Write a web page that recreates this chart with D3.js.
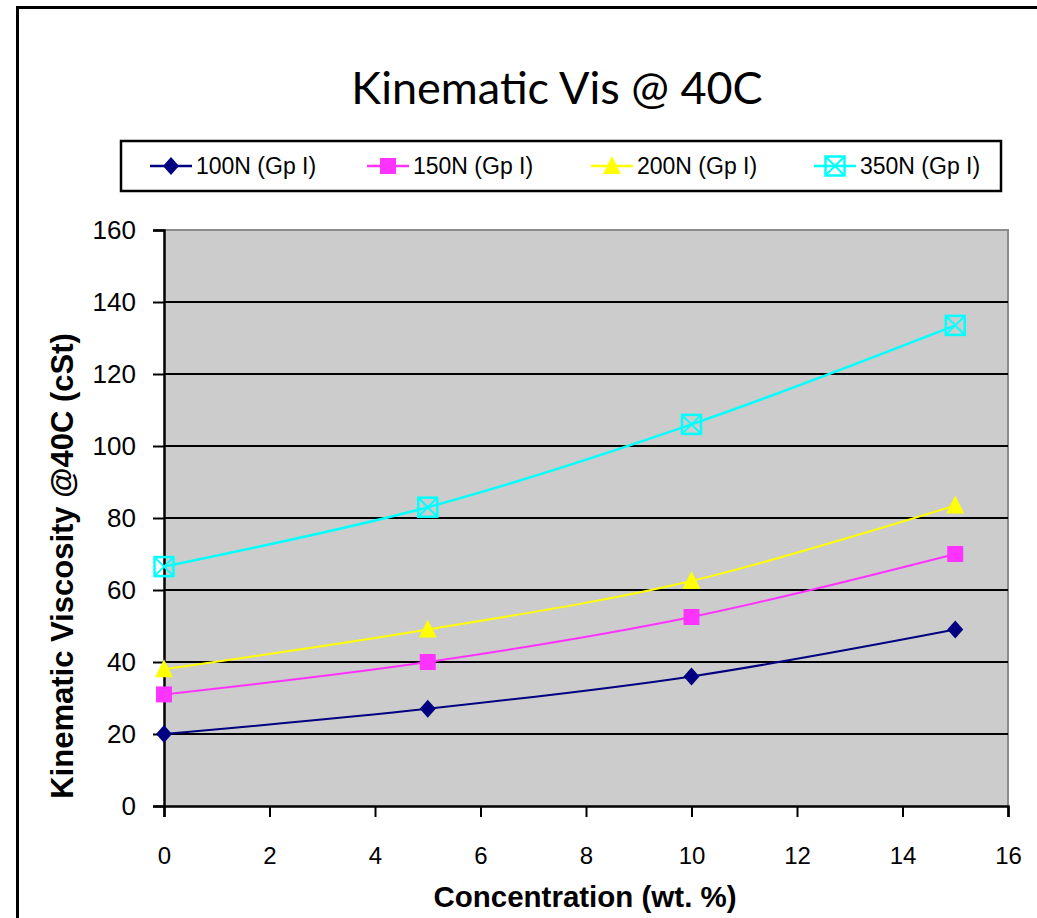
<!DOCTYPE html>
<html>
<head>
<meta charset="utf-8">
<script src="https://cdn.jsdelivr.net/npm/d3@7"></script>
<style>
  body { margin: 0; background: #fff; }
  svg { display: block; }
</style>
</head>
<body>
<div id="chart"></div>
<script>
const concentration = [0, 5, 10, 15]
const visc100N = [20, 27, 36, 49]
const visc150N = [31, 40, 52.5, 70]
const visc200N = [38, 49, 62.5, 83.5]
const visc350N = [66.5, 83, 106, 133.5]
const seriesNames = ["100N (Gp I)", "150N (Gp I)", "200N (Gp I)", "350N (Gp I)"]
const xTicks = [0, 2, 4, 6, 8, 10, 12, 14, 16]
const yTicks = [0, 20, 40, 60, 80, 100, 120, 140, 160]

const series = [
  { name: seriesNames[0], values: visc100N, color: "#000080", marker: "diamond" },
  { name: seriesNames[1], values: visc150N, color: "#ff33ff", marker: "square" },
  { name: seriesNames[2], values: visc200N, color: "#ffff00", marker: "triangle" },
  { name: seriesNames[3], values: visc350N, color: "#00ffff", marker: "boxx" }
]

const width = 1037, height = 918
const plot = { left: 164, right: 1008, top: 230, bottom: 806 }
const font = "'Liberation Sans', Arial, sans-serif"

const svg = d3.select("#chart").append("svg")
  .attr("width", width)
  .attr("height", height)

// outer chart border (runs off the right/bottom edge)
svg.append("rect")
  .attr("x", 17.5).attr("y", 7.5)
  .attr("width", 1100).attr("height", 1000)
  .attr("fill", "#fff")
  .attr("stroke", "#000")
  .attr("stroke-width", 3)

const x = d3.scaleLinear().domain([0, 16]).range([plot.left, plot.right])
const y = d3.scaleLinear().domain([0, 160]).range([plot.bottom, plot.top])

// plot background
svg.append("rect")
  .attr("x", plot.left).attr("y", plot.top)
  .attr("width", plot.right - plot.left)
  .attr("height", plot.bottom - plot.top)
  .attr("fill", "#cccccc")

// top and right border of plot area
svg.append("path")
  .attr("d", `M${plot.left},${plot.top}H${plot.right}V${plot.bottom}`)
  .attr("fill", "none")
  .attr("stroke", "#8c8c8c")
  .attr("stroke-width", 2)

// gridlines
svg.append("g")
  .selectAll("line")
  .data(yTicks.filter(d => d > 0 && d < 160))
  .join("line")
    .attr("x1", plot.left).attr("x2", plot.right)
    .attr("y1", d => y(d)).attr("y2", d => y(d))
    .attr("stroke", "#000")
    .attr("stroke-width", 2)

// axes
const yAxis = svg.append("g")
  .attr("transform", `translate(${plot.left},0)`)
  .call(d3.axisLeft(y).tickValues(yTicks).tickSize(11).tickPadding(17))
yAxis.select(".domain").attr("stroke-width", 2.5)
yAxis.selectAll(".tick line").attr("stroke-width", 2)
yAxis.selectAll("text")
  .style("font-family", font)
  .style("font-size", "26px")
  .attr("fill", "#000")

const xAxis = svg.append("g")
  .attr("transform", `translate(0,${plot.bottom})`)
  .call(d3.axisBottom(x).tickValues(xTicks).tickSize(11).tickPadding(30))
xAxis.select(".domain").attr("stroke-width", 2.5)
xAxis.selectAll(".tick line").attr("stroke-width", 2)
xAxis.selectAll("text")
  .style("font-family", font)
  .style("font-size", "24px")
  .attr("fill", "#000")

// marker drawing
function drawMarker(g, type, color) {
  if (type === "diamond") {
    g.append("path").attr("d", "M0,-9L8,0L0,9L-8,0Z").attr("fill", color)
  } else if (type === "square") {
    g.append("rect").attr("x", -8).attr("y", -8).attr("width", 16).attr("height", 16).attr("fill", color)
  } else if (type === "triangle") {
    g.append("path").attr("d", "M0,-10L9,8L-9,8Z").attr("fill", color)
  } else {
    g.append("rect").attr("x", -9.5).attr("y", -9.5).attr("width", 19).attr("height", 19)
      .attr("fill", "none").attr("stroke", color).attr("stroke-width", 2.5)
    g.append("path").attr("d", "M-9.5,-9.5L9.5,9.5M9.5,-9.5L-9.5,9.5")
      .attr("stroke", color).attr("stroke-width", 2)
  }
}

const line = d3.line()
  .x((d, i) => x(concentration[i]))
  .y(d => y(d))
  .curve(d3.curveCatmullRom.alpha(0))

series.forEach(s => {
  svg.append("path")
    .datum(s.values)
    .attr("fill", "none")
    .attr("stroke", s.color)
    .attr("stroke-width", s.marker === "boxx" ? 2.5 : 2)
    .attr("d", line)

  s.values.forEach((v, i) => {
    const g = svg.append("g").attr("transform", `translate(${x(concentration[i])},${y(v)})`)
    drawMarker(g, s.marker, s.color)
  })
})

// title
svg.append("text")
  .attr("x", 557).attr("y", 104)
  .attr("text-anchor", "middle")
  .style("font-family", "Lato, 'Open Sans', sans-serif")
  .style("font-size", "45px")
  .text("Kinematic Vis @ 40C")

// legend
svg.append("rect")
  .attr("x", 121).attr("y", 141)
  .attr("width", 880).attr("height", 50)
  .attr("fill", "#fff")
  .attr("stroke", "#000")
  .attr("stroke-width", 2.5)

const legendX = [171, 388, 612, 835]
series.forEach((s, i) => {
  const g = svg.append("g").attr("transform", `translate(${legendX[i]},166)`)
  g.append("line").attr("x1", -21).attr("x2", 21).attr("stroke", s.color).attr("stroke-width", 2.5)
  drawMarker(g, s.marker, s.color)
  g.append("text")
    .attr("x", 25).attr("y", 8)
    .style("font-family", font)
    .style("font-size", "23px")
    .text(s.name)
})

// axis titles
svg.append("text")
  .attr("transform", `translate(73,566) rotate(-90)`)
  .attr("text-anchor", "middle")
  .style("font-family", font)
  .style("font-weight", "bold")
  .style("font-size", "31px")
  .text("Kinematic Viscosity @40C (cSt)")

svg.append("text")
  .attr("x", 585).attr("y", 907)
  .attr("text-anchor", "middle")
  .style("font-family", font)
  .style("font-weight", "bold")
  .style("font-size", "29.5px")
  .text("Concentration (wt. %)")
</script>
</body>
</html>
